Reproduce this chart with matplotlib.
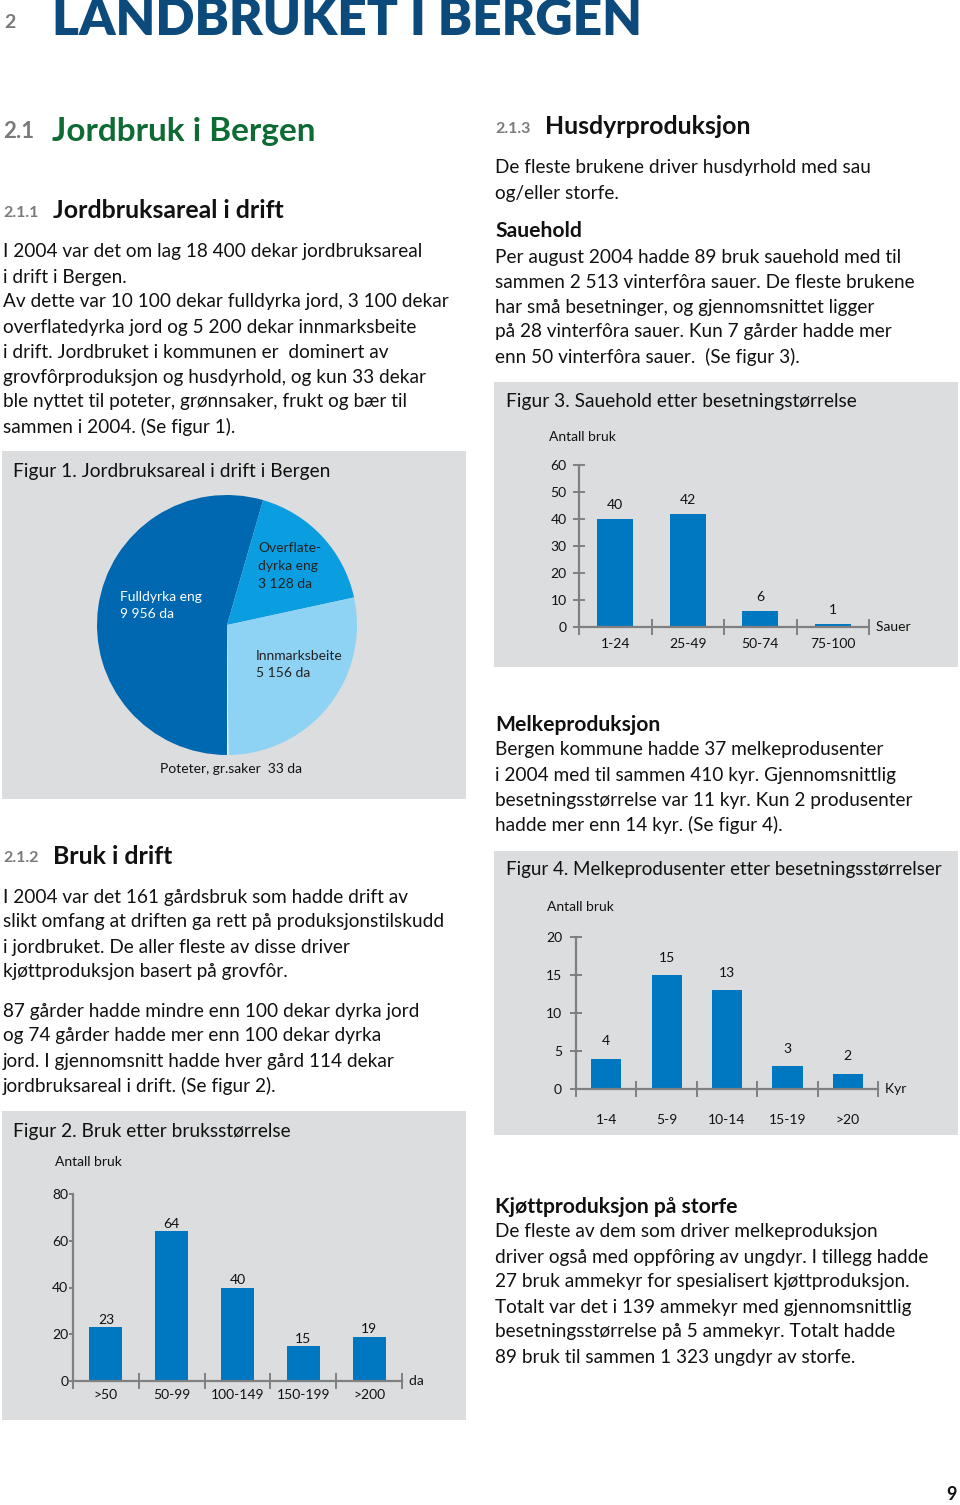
import matplotlib
matplotlib.use("Agg")
import matplotlib.pyplot as plt
from matplotlib.patches import Rectangle

W, H = 960, 1505
plt.rcParams['font.family'] = ['Lato', 'DejaVu Sans']

# --- data ---
pie_labels = ["Fulldyrka eng", "Overflatedyrka eng", "Innmarksbeite", "Poteter, gr.saker"]
pie_values = [9956, 3128, 5156, 33]

fig2_cats = [">50", "50-99", "100-149", "150-199", ">200"]
fig2_vals = [23, 64, 40, 15, 19]

fig3_cats = ["1-24", "25-49", "50-74", "75-100"]
fig3_vals = [40, 42, 6, 1]

fig4_cats = ["1-4", "5-9", "10-14", "15-19", ">20"]
fig4_vals = [4, 15, 13, 3, 2]

BLUE = "#0077c1"
GREY_BOX = "#dcddde"
AXIS = "#808080"
BODY = 13.7
SUB = 15.2

fig = plt.figure(figsize=(W / 100, H / 100), dpi=100)
fig.patch.set_facecolor("white")


def fx(x):
    return x / W


def fy(y):
    return 1 - y / H


def txt(x, y, s, size=BODY, **kw):
    kw.setdefault("color", "#111111")
    kw.setdefault("va", "center")
    kw.setdefault("ha", "left")
    fig.text(fx(x), fy(y), s, fontsize=size, **kw)


def lines(x, y0, rows, step=25, **kw):
    for i, r in enumerate(rows):
        txt(x, y0 + i * step, r, **kw)


def box(x0, y0, x1, y1):
    fig.patches.append(Rectangle((fx(x0), fy(y1)), (x1 - x0) / W, (y1 - y0) / H,
                                 transform=fig.transFigure, facecolor=GREY_BOX,
                                 edgecolor="none", zorder=-5))


def axes_px(left, top, right, bottom):
    return fig.add_axes([fx(left), fy(bottom), (right - left) / W, (bottom - top) / H])


# --- headings ---
txt(4, 23, "2", size=14, color="#7a7a7a", weight="bold")
txt(52, 35, "LANDBRUKET I BERGEN", size=37, color="#0b4a7a", weight="heavy", va="baseline")

txt(3, 132, "2.1", size=16, color="#7a7a7a", weight="bold")
txt(52, 131, "Jordbruk i Bergen", size=24, color="#0e6b34", weight="bold")

txt(3, 213, "2.1.1", size=11.5, color="#7a7a7a", weight="bold")
txt(53, 211, "Jordbruksareal i drift", size=17.9, weight="bold")

lines(3, 252, [
    "I 2004 var det om lag 18 400 dekar jordbruksareal",
    "i drift i Bergen.",
    "Av dette var 10 100 dekar fulldyrka jord, 3 100 dekar",
    "overflatedyrka jord og 5 200 dekar innmarksbeite",
    "i drift. Jordbruket i kommunen er  dominert av",
    "grovfôrproduksjon og husdyrhold, og kun 33 dekar",
    "ble nyttet til poteter, grønnsaker, frukt og bær til",
    "sammen i 2004. (Se figur 1).",
])

txt(3, 858, "2.1.2", size=11.5, color="#7a7a7a", weight="bold")
txt(53, 856, "Bruk i drift", size=17.9, weight="bold")
lines(3, 897, [
    "I 2004 var det 161 gårdsbruk som hadde drift av",
    "slikt omfang at driften ga rett på produksjonstilskudd",
    "i jordbruket. De aller fleste av disse driver",
    "kjøttproduksjon basert på grovfôr.",
])
lines(3, 1011, [
    "87 gårder hadde mindre enn 100 dekar dyrka jord",
    "og 74 gårder hadde mer enn 100 dekar dyrka",
    "jord. I gjennomsnitt hadde hver gård 114 dekar",
    "jordbruksareal i drift. (Se figur 2).",
])

txt(495, 129, "2.1.3", size=11.5, color="#7a7a7a", weight="bold")
txt(545, 127, "Husdyrproduksjon", size=17.9, weight="bold")
lines(495, 168, [
    "De fleste brukene driver husdyrhold med sau",
    "og/eller storfe.",
])
txt(495, 231, "Sauehold", size=SUB, weight="bold")
lines(495, 257, [
    "Per august 2004 hadde 89 bruk sauehold med til",
    "sammen 2 513 vinterfôra sauer. De fleste brukene",
    "har små besetninger, og gjennomsnittet ligger",
    "på 28 vinterfôra sauer. Kun 7 gårder hadde mer",
    "enn 50 vinterfôra sauer.  (Se figur 3).",
])
txt(495, 725, "Melkeproduksjon", size=SUB, weight="bold")
lines(495, 750, [
    "Bergen kommune hadde 37 melkeprodusenter",
    "i 2004 med til sammen 410 kyr. Gjennomsnittlig",
    "besetningsstørrelse var 11 kyr. Kun 2 produsenter",
    "hadde mer enn 14 kyr. (Se figur 4).",
])
txt(495, 1207, "Kjøttproduksjon på storfe", size=SUB, weight="bold")
lines(495, 1232, [
    "De fleste av dem som driver melkeproduksjon",
    "driver også med oppfôring av ungdyr. I tillegg hadde",
    "27 bruk ammekyr for spesialisert kjøttproduksjon.",
    "Totalt var det i 139 ammekyr med gjennomsnittlig",
    "besetningsstørrelse på 5 ammekyr. Totalt hadde",
    "89 bruk til sammen 1 323 ungdyr av storfe.",
])

txt(946, 1494, "9", size=13, weight="bold")

# --- Figur 1: pie ---
box(2, 451, 466, 799)
txt(13, 471, "Figur 1. Jordbruksareal i drift i Bergen", size=13.8)
ax = axes_px(97, 495, 357, 755)
ax.pie(pie_values, colors=["#0067b1", "#0a9ee0", "#8ed3f3", "#e9f5fb"],
       startangle=270, counterclock=False,
       wedgeprops=dict(linewidth=0))
ax.set_aspect("equal")
ax.set_xlim(-1, 1)
ax.set_ylim(-1, 1)
ax.axis("off")
lines(120, 597, ["Fulldyrka eng", "9 956 da"], step=17, size=10, color="white")
lines(258, 548, ["Overflate-", "dyrka eng", "3 128 da"], step=18, size=10, color="#222222")
lines(256, 656, ["Innmarksbeite", "5 156 da"], step=17, size=10, color="#222222")
txt(160, 769, "Poteter, gr.saker  33 da", size=10)


def bar_chart(ax, cats, vals, ymax, ystep, unit, tick_dir, pad_lbl, lbl_gap, ypad):
    n = len(cats)
    xs = [i + 0.5 for i in range(n)]
    ax.bar(xs, vals, width=0.5, color=BLUE, zorder=2)
    for x, v in zip(xs, vals):
        ax.text(x, v + lbl_gap, str(v), ha="center", va="bottom", fontsize=10, color="#111111")
    ax.set_xlim(0, n)
    ax.set_ylim(0, ymax)
    ax.set_facecolor("none")
    for s in ("top", "right"):
        ax.spines[s].set_visible(False)
    for s in ("left", "bottom"):
        ax.spines[s].set_color(AXIS)
        ax.spines[s].set_linewidth(1.6)
    ax.set_yticks(range(0, ymax + 1, ystep))
    ax.tick_params(axis="y", direction=tick_dir, length=8 if tick_dir == "inout" else 3,
                   width=1.4, color=AXIS, labelsize=10, labelcolor="#111111", pad=ypad)
    ax.set_xticks(range(n + 1))
    ax.set_xticklabels([])
    ax.tick_params(axis="x", which="major", direction="inout", length=12, width=1.4, color=AXIS)
    ax.set_xticks(xs, minor=True)
    ax.set_xticklabels(cats, minor=True)
    ax.tick_params(axis="x", which="minor", length=0, pad=pad_lbl, labelsize=10, labelcolor="#111111")
    ax.text(n, 0, "  " + unit, transform=ax.transData, ha="left", va="center", fontsize=10,
            color="#111111", clip_on=False)


# --- Figur 2 ---
box(2, 1111, 466, 1420)
txt(13, 1131, "Figur 2. Bruk etter bruksstørrelse", size=13.8)
txt(55, 1162, "Antall bruk", size=10)
ax2 = axes_px(73, 1194, 402, 1381)
bar_chart(ax2, fig2_cats, fig2_vals, 80, 20, "da", "out", 6, 0.5, 0.5)

# --- Figur 3 ---
box(494, 382, 958, 667)
txt(506, 402, "Figur 3. Sauehold etter besetningstørrelse", size=13.8)
txt(549, 437, "Antall bruk", size=10)
ax3 = axes_px(579, 465, 869, 627)
bar_chart(ax3, fig3_cats, fig3_vals, 60, 10, "Sauer", "inout", 8, 3, 5)

# --- Figur 4 ---
box(494, 851, 958, 1135)
txt(506, 870, "Figur 4. Melkeprodusenter etter besetningsstørrelser", size=13.5)
txt(547, 907, "Antall bruk", size=10)
ax4 = axes_px(576, 937, 878, 1089)
bar_chart(ax4, fig4_cats, fig4_vals, 20, 5, "Kyr", "inout", 18, 1.5, 6)

fig.savefig("out.png", dpi=100)
